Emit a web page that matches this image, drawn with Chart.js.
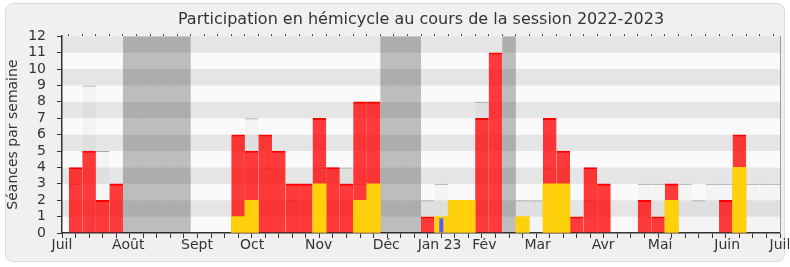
<!DOCTYPE html>
<html lang="fr">
<head>
  <meta charset="UTF-8">
  <title>Participation en hémicycle 2022-2023</title>
  <script src="https://cdn.jsdelivr.net/npm/chart.js"></script>
  <style>
    body {
      margin: 0;
      background: #ffffff;
      font-family: "DejaVu Sans", sans-serif;
    }
    .cadre {
      position: absolute;
      left: 5px;
      top: 3px;
      width: 778px;
      height: 257px;
      background: #f0f0f0;
      border: 1px solid #dadada;
      border-radius: 8px;
    }
    #graphe {
      position: absolute;
      left: 0;
      top: 0;
    }
  </style>
</head>
<body>
  <div class="cadre"></div>
  <canvas id="graphe" width="790" height="267"></canvas>

  <script>
    // semaines de la session (1 = première semaine de juillet 2022)
    const semaines = [1,2,3,4,5,6,7,8,9,10,11,12,13,14,15,16,17,18,19,20,21,22,23,24,25,26,27,
                      28,29,30,31,32,33,34,35,36,37,38,39,40,41,42,43,44,45,46,47,48,49,50,51,52,53];

    // présences en hémicycle (rouge)
    const presences = [4,5,2,3, 0,0,0,0,0, 0,0,0, 6,5,6,5,3,3,7,4,3,8,8, 0,0,0,
                       1,0,0,0,7,11, 0, 0,0,7,5,1,4,3,0,0,2,1,3,0,0,0,2,6,0,0,0];

    // interventions (jaune)
    const interventions = [0,0,0,0, 0,0,0,0,0, 0,0,0, 1,2,0,0,0,0,3,0,0,2,3, 0,0,0,
                           0,1,2,2,0,0, 0, 1,0,3,3,0,0,0,0,0,0,0,2,0,0,0,0,4,0,0,0];

    // séances de la semaine (gris clair)
    const seances = [3,9,5,null, null,null,null,null,null, null,null,null,
                     null,7,4,null,2,null,4,4,4,3,null, null,null,null,
                     2,3,null,null,8,null, null, 2,2,4,null,null,2,null,null,null,
                     3,3,3,3,2,3,3,3,3,3,3];

    // questions orales (bleu)
    const questions = [null,null,null,null,null,null,null,null,null,null,null,null,null,null,
                       null,null,null,null,null,null,null,null,null,null,null,null,null,
                       0.9,null,null,null,null,null,null,null,null,null,null,null,null,
                       null,null,null,null,null,null,null,null,null,null,null,null,null];

    // vacances parlementaires
    const vacances = [null,null,null,null,12,12,12,12,12,null,null,null,null,null,null,null,
                      null,null,null,null,null,null,null,12,12,12,null,null,null,null,null,
                      null,12,null,null,null,null,null,null,null,null,null,null,null,null,
                      null,null,null,null,null,null,null,null];

    const moisLabels = ["Juil", "Août", "Sept", "Oct", "Nov", "Déc", "Jan 23",
                        "Fév", "Mar", "Avr", "Mai", "Juin", "Juil"];
    const moisPositions = [0, 4.89, 9.96, 14.04, 18.94, 23.93, 27.87,
                           31.18, 35.11, 39.95, 44.15, 49.1, 53];

    const ticksSemaines = [0].concat(semaines);

    Chart.defaults.font.family = "DejaVu Sans";
    Chart.defaults.color = "#333";

    // les semaines à 0 ne dessinent pas de barre
    const serie = vals => vals.map((v, i) => ({ x: semaines[i], y: v ? v : null }));

    const commun = {
      grouped: false,
      barPercentage: 1,
      categoryPercentage: 1,
      inflateAmount: 0,
      xAxisID: "x",
      yAxisID: "y"
    };

    // bandes horizontales alternées du fond
    const bandes = {
      id: "bandes",
      beforeDraw(chart) {
        const { ctx, chartArea: a, scales: { y } } = chart;
        ctx.save();
        for (let k = 0; k < 12; k++) {
          ctx.fillStyle = k % 2 ? "#e5e5e5" : "#fafafa";
          const haut = y.getPixelForValue(k + 1);
          const bas = y.getPixelForValue(k);
          ctx.fillRect(a.left, haut, a.right - a.left, bas - haut);
        }
        ctx.restore();
      }
    };

    const police = { family: "DejaVu Sans", size: 14 };

    new Chart(document.getElementById("graphe"), {
      type: "bar",
      data: {
        datasets: [
          Object.assign({ label: "Vacances", data: serie(vacances),
            backgroundColor: "rgba(0,0,0,0.245)", order: 5 }, commun),
          Object.assign({ label: "Séances", data: serie(seances),
            backgroundColor: "rgba(0,0,0,0.025)", borderColor: "#a8a8a8",
            borderWidth: { top: 1, left: 0, right: 0, bottom: 0 }, order: 4 }, commun),
          Object.assign({ label: "Présences", data: serie(presences),
            backgroundColor: "rgba(255,0,0,0.77)", borderColor: "#ff0000",
            borderWidth: { top: 1.5, left: 0, right: 0, bottom: 0 }, order: 3 },
            commun, { inflateAmount: 0.2 }),
          Object.assign({ label: "Interventions", data: serie(interventions),
            backgroundColor: "#fed10c", order: 2 }, commun, { inflateAmount: 0.3 }),
          Object.assign({ label: "Questions", data: serie(questions),
            backgroundColor: "#5b5bf5", order: 1 }, commun, { barPercentage: 0.3 })
        ]
      },
      options: {
        responsive: false,
        animation: false,
        devicePixelRatio: 1,
        layout: { padding: { left: 0, right: 10, top: 0, bottom: 9 } },
        plugins: {
          legend: { display: false },
          tooltip: { enabled: false },
          title: {
            display: true,
            fullSize: false,
            text: "Participation en hémicycle au cours de la session 2022-2023",
            color: "#333",
            font: { family: "DejaVu Sans", size: 16, weight: "normal" },
            padding: { top: 10, bottom: 5 }
          }
        },
        scales: {
          x: {
            type: "linear", position: "bottom", min: 0, max: 53, offset: false, z: 1,
            afterBuildTicks: s => { s.ticks = ticksSemaines.map(v => ({ value: v })); },
            ticks: { display: false },
            grid: { drawOnChartArea: false, tickLength: 5, color: "#333", offset: false },
            border: { color: "#333", width: 1.5 }
          },
          xm: {
            type: "linear", position: "bottom", min: 0, max: 53, offset: false,
            afterBuildTicks: s => { s.ticks = moisPositions.map(v => ({ value: v })); },
            afterFit: s => { s.height = 20; },
            ticks: {
              autoSkip: false, maxRotation: 0, padding: -1, color: "#333", font: police,
              callback: (v, i) => moisLabels[i]
            },
            grid: { display: false, drawTicks: false },
            border: { display: false }
          },
          xt: {
            type: "linear", position: "top", min: 0, max: 53, offset: false,
            afterBuildTicks: s => { s.ticks = ticksSemaines.map(v => ({ value: v })); },
            ticks: { display: false },
            grid: { drawOnChartArea: false, tickLength: 2, color: "#444" },
            border: { display: false }
          },
          y: {
            position: "left", min: 0, max: 12, z: 1,
            afterFit: s => { s.width = 62; },
            ticks: { stepSize: 1, autoSkip: false, padding: 11, color: "#333", font: police },
            grid: { drawOnChartArea: false, tickLength: 5, color: "#333" },
            border: { color: "#333", width: 1.5 },
            title: {
              display: true, text: "Séances par semaine", color: "#333", font: police,
              padding: { top: 5, bottom: 0 }
            }
          },
          y2: {
            position: "right", min: 0, max: 12,
            ticks: { display: false },
            grid: { display: false, drawTicks: false },
            border: { color: "#9a9a9a", width: 1 }
          }
        }
      },
      plugins: [bandes]
    });
  </script>
</body>
</html>
